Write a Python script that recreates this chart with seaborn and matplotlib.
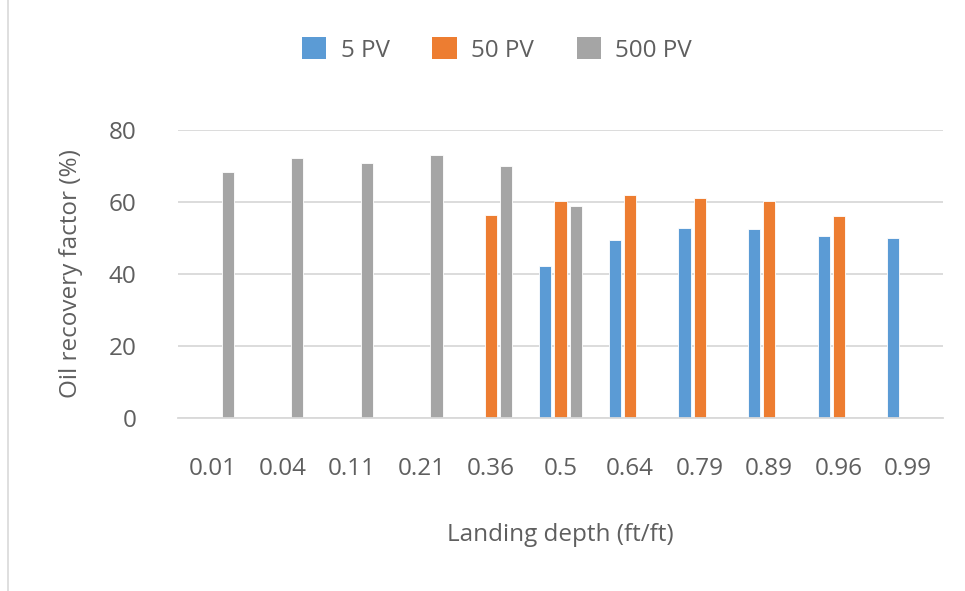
import numpy as np
import pandas as pd
import matplotlib
matplotlib.use("Agg")
import matplotlib.pyplot as plt
import seaborn as sns
from matplotlib.lines import Line2D

depths = ["0.01", "0.04", "0.11", "0.21", "0.36", "0.5", "0.64", "0.79", "0.89", "0.96", "0.99"]
series_names = ["5 PV", "50 PV", "500 PV"]
pv5 = [np.nan, np.nan, np.nan, np.nan, np.nan, 42.3, 49.5, 52.8, 52.5, 50.6, 50.0]
pv50 = [np.nan, np.nan, np.nan, np.nan, 56.4, 60.4, 62.0, 61.0, 60.3, 56.2, np.nan]
pv500 = [68.3, 72.1, 70.7, 73.0, 69.9, 58.9, np.nan, np.nan, np.nan, np.nan, np.nan]
colors = ["#5B9BD5", "#ED7D31", "#A5A5A5"]
yticks = [0, 20, 40, 60, 80]

rows = []
for name, vals in zip(series_names, [pv5, pv50, pv500]):
    for d, v in zip(depths, vals):
        rows.append({"depth": d, "series": name, "value": v})
df = pd.DataFrame(rows)

sns.set_theme(style="white")
plt.rcParams['font.family'] = ['Open Sans', 'DejaVu Sans']
txt = "#5F5F5F"
fs = 17.5

fig = plt.figure(figsize=(9.65, 5.91), dpi=100)
ax = fig.add_axes([178/965, 1-418/591, (943-178)/965, (418-130)/591])

sns.barplot(data=df, x="depth", y="value", hue="series", order=depths,
            hue_order=series_names, palette=colors, width=0.65, gap=0.2,
            ax=ax, saturation=1, edgecolor="white", linewidth=0.6, legend=False)

ax.set_ylim(0, 80)
ax.set_xlim(-0.5, len(depths) - 0.5)
ax.set_yticks(yticks)
ax.set_yticklabels([str(t) for t in yticks])
ax.yaxis.grid(True, color="#D9D9D9", linewidth=1.3)
ax.set_axisbelow(True)
for s in ["top", "right", "left"]:
    ax.spines[s].set_visible(False)
ax.spines["bottom"].set_color("#D9D9D9")
ax.spines["bottom"].set_linewidth(1.3)
ax.tick_params(axis="both", length=0, labelsize=fs, colors=txt)
ax.tick_params(axis="x", pad=28)
ax.tick_params(axis="y", pad=30)
ax.set_xlabel("Landing depth (ft/ft)", fontsize=fs, color=txt, labelpad=30)
ax.set_ylabel("Oil recovery factor (%)", fontsize=fs, color=txt, labelpad=18)

handles = [plt.Rectangle((0, 0), 1, 1, facecolor=c, edgecolor="none") for c in colors]
fig.legend(handles, series_names, loc="center", bbox_to_anchor=(0.515, 1-50/591),
           ncol=3, frameon=False, fontsize=fs, labelcolor=txt,
           handlelength=1.0, handleheight=1.0, columnspacing=1.75, handletextpad=0.6)

fig.add_artist(Line2D([8/965, 8/965], [0, 1], color="#D9D9D9", linewidth=1.2,
                      transform=fig.transFigure))

fig.savefig("out.png", dpi=100)
